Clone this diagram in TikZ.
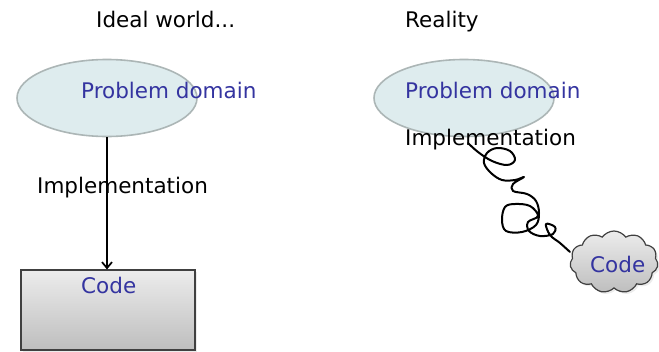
\documentclass[tikz,border=0pt]{standalone}
\usepackage{fontspec}
\setmainfont{DejaVu Sans}
\usetikzlibrary{shapes.geometric,shapes.symbols,arrows.meta,shadows}
\definecolor{ellfill}{RGB}{222,236,238}
\definecolor{elldraw}{RGB}{172,182,182}
\definecolor{txtblue}{RGB}{52,52,160}
\definecolor{boxtop}{RGB}{236,236,236}
\definecolor{boxbot}{RGB}{190,190,190}
\begin{document}
\begin{tikzpicture}[x=1pt,y=-1pt,
  lbl/.style={font=\fontsize{21.5}{25}\selectfont, inner sep=0pt, anchor=base west},
  bluelbl/.style={lbl, text=txtblue},
  pdell/.style={ellipse, draw=elldraw, line width=1.6pt, fill=ellfill,
    minimum width=180pt, minimum height=77pt, inner sep=0pt},
  codebox/.style={rectangle, draw=black!75, line width=1.2pt, top color=boxtop, bottom color=boxbot,
    minimum width=174pt, minimum height=80pt, inner sep=0pt,
    drop shadow={opacity=0.15, shadow xshift=2pt, shadow yshift=-2pt}},
  codecloud/.style={cloud, cloud puffs=11, cloud puff arc=110, aspect=1.45, draw=black!75, line width=1.2pt,
    top color=boxtop, bottom color=boxbot, minimum width=88pt, minimum height=62pt, inner sep=0pt,
    drop shadow={opacity=0.15, shadow xshift=2pt, shadow yshift=-2pt}},
  scribble/.style={line width=2pt, black, line cap=round, line join=round}
]
\useasboundingbox (0,0) rectangle (659,351);

% left: ideal world
\node[lbl] (ideal) at (96,27) {Ideal world...};
\node[pdell] (pd1) at (107,98) {};
\node[bluelbl] (pd1t) at (81,98) {Problem domain};
\node[codebox] (code1) at (108,310) {};
\node[bluelbl] (code1t) at (81,293) {Code};
\draw[line width=1.7pt, -{Straight Barb[length=6pt,width=10pt]}] (pd1.south) -- (pd1.south |- code1.north);
\node[lbl] (impl1) at (37,193) {Implementation};

% right: reality
\node[lbl] (real) at (405,27) {Reality};
\node[pdell] (pd2) at (464,98) {};
\node[bluelbl] (pd2t) at (405,98) {Problem domain};
\node[codecloud] (code2) at (614,262) {};
\node[bluelbl] (code2t) at (590,272) {Code};
\node[lbl] (impl2) at (405,145) {Implementation};
\coordinate (sstart) at (468,143);
\draw[scribble] plot[smooth, tension=0.6] coordinates {
 (468,143) (478,152) (492,161) (507,165) (515,160) (510,151) (497,148) (487,153)
 (484,163) (491,173) (502,180) (515,180) (524,177) (513,184) (513,191) (527,194)
 (536,201) (539,213) (536,225) (522,232) (506,231) (502,220) (505,207) (515,204)
 (530,206) (538,216) (528,222) (529,231) (540,236) (553,234) (555,227) (546,224)
 (550,235) (560,243) (570,252)};
\end{tikzpicture}
\end{document}
